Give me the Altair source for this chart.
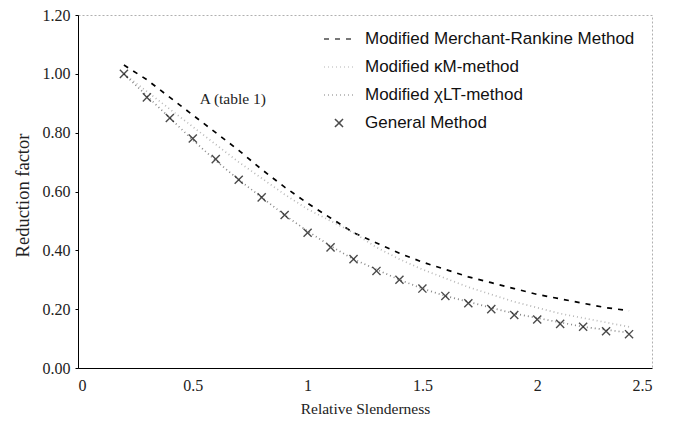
import altair as alt
import pandas as pd

x_vals = [0.2, 0.3, 0.4, 0.5, 0.6, 0.7, 0.8, 0.9, 1.0, 1.1, 1.2, 1.3,
          1.4, 1.5, 1.6, 1.7, 1.8, 1.9, 2.0, 2.1, 2.2, 2.3, 2.4]
merchant_rankine = [1.03, 0.98, 0.92, 0.86, 0.80, 0.74, 0.675, 0.615, 0.56, 0.51, 0.46, 0.425,
                    0.39, 0.36, 0.335, 0.31, 0.29, 0.27, 0.25, 0.235, 0.22, 0.205, 0.195]
kappa_m = [1.00, 0.94, 0.88, 0.82, 0.76, 0.70, 0.645, 0.59, 0.54, 0.50, 0.46, 0.41,
           0.37, 0.335, 0.305, 0.275, 0.25, 0.225, 0.205, 0.185, 0.17, 0.155, 0.14]
chi_lt = [1.00, 0.925, 0.85, 0.775, 0.705, 0.64, 0.58, 0.52, 0.465, 0.415, 0.37, 0.335,
          0.30, 0.27, 0.245, 0.225, 0.205, 0.185, 0.17, 0.155, 0.14, 0.13, 0.12]
general = [1.00, 0.92, 0.85, 0.78, 0.71, 0.64, 0.58, 0.52, 0.46, 0.41, 0.37, 0.33,
           0.30, 0.27, 0.245, 0.22, 0.20, 0.18, 0.165, 0.15, 0.14, 0.125, 0.115]

methods = ["Modified Merchant-Rankine Method", "Modified \u03baM-method",
           "Modified \u03c7LT-method", "General Method"]
x_ticks = [0, 0.5, 1, 1.5, 2, 2.5]
y_ticks = [0.0, 0.2, 0.4, 0.6, 0.8, 1.0, 1.2]
note_text = ["A (table 1)"]
note_x = [0.53]
note_y = [0.915]

rows = []
for name, ys in zip(methods[:3], [merchant_rankine, kappa_m, chi_lt]):
    for xv, yv in zip(x_vals, ys):
        rows.append({"x": xv, "y": yv, "method": name})
lines_df = pd.DataFrame(rows)
pts_df = pd.DataFrame({"x": x_vals, "y": general, "method": methods[3]})
note_df = pd.DataFrame({"x": note_x, "y": note_y, "t": note_text})

line_path = "M-1,0L1,0"
cross_path = "M-0.27,-0.27L0.27,0.27M-0.27,0.27L0.27,-0.27"

color_scale = alt.Scale(domain=methods, range=["#000000", "#b8b8b8", "#888888", "#000000"])
dash_scale = alt.Scale(domain=methods, range=[[5, 6], [1, 3], [1, 3], [1, 0]])
shape_scale = alt.Scale(domain=methods, range=[line_path, line_path, line_path, cross_path])

legend = alt.Legend(title=None, orient="none", legendX=245, legendY=8,
                    labelFont="Liberation Sans", labelFontSize=17, labelColor="#111",
                    symbolSize=900, symbolStrokeWidth=1.5, labelOffset=10,
                    rowPadding=4, padding=0, labelLimit=400)

xenc = alt.X("x:Q", scale=alt.Scale(domain=[0, 2.5], nice=False),
             axis=alt.Axis(values=x_ticks, format="~g", title="Relative Slenderness", grid=False,
                           ticks=False, labelPadding=9,
                           titleY=40, titleBaseline="middle"))
yenc = alt.Y("y:Q", scale=alt.Scale(domain=[0, 1.2], nice=False),
             axis=alt.Axis(values=y_ticks, format=".2f", title="Reduction factor", grid=False,
                           titleFontSize=18.5,
                           titleX=-56, titleY=180, titleAlign="center",
                           titleBaseline="middle", titleAngle=270))

lines = alt.Chart(lines_df).mark_line(strokeWidth=1.7).encode(
    x=xenc, y=yenc,
    color=alt.Color("method:N", scale=color_scale, legend=legend),
    strokeDash=alt.StrokeDash("method:N", scale=dash_scale, legend=legend),
    detail="method:N",
)

points = alt.Chart(pts_df).mark_point(filled=False, size=900, strokeWidth=1.4).encode(
    x="x:Q", y="y:Q",
    color=alt.Color("method:N", scale=color_scale, legend=legend),
    shape=alt.Shape("method:N", scale=shape_scale, legend=legend),
)

note = alt.Chart(note_df).mark_text(align="left", baseline="middle", font="Liberation Serif",
                                    fontSize=15.5, color="#222").encode(
    x="x:Q", y="y:Q", text="t:N")

chart = alt.layer(lines, points, note).properties(
    width=574, height=353,
    autosize=alt.AutoSizeParams(type="none"),
    padding={"left": 78, "top": 15, "right": 21, "bottom": 55},
).configure_view(
    stroke="#b0b0b0", strokeDash=[2, 2], strokeWidth=1
).configure_axis(
    labelFont="Liberation Serif", labelFontSize=16, labelColor="#222",
    titleFont="Liberation Serif", titleFontSize=15.5, titleColor="#222", titleFontWeight="normal",
    domainColor="#000", domainWidth=1, tickColor="#000", tickSize=3, labelPadding=5,
)

chart.save("out.html", embed_options={"renderer": "svg", "actions": False})
